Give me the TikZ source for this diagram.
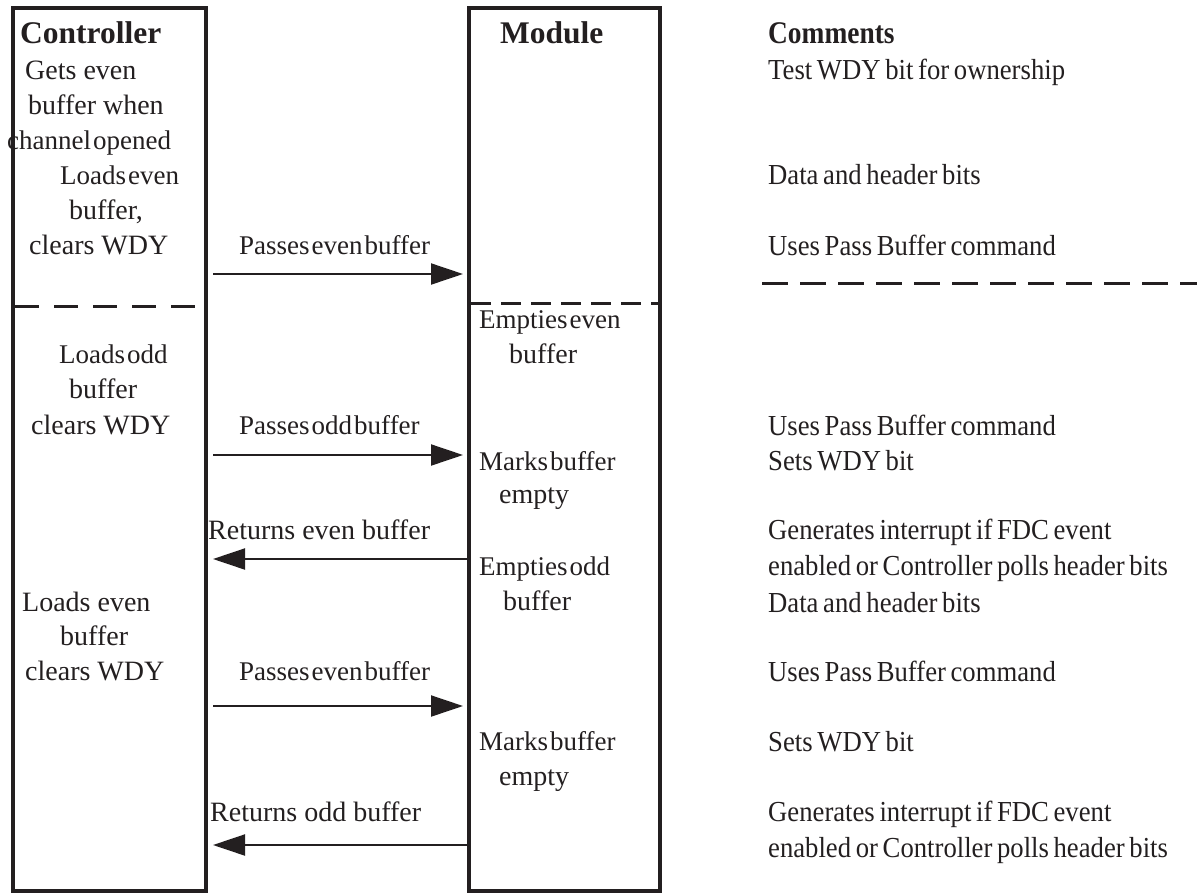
\documentclass[tikz,border=0pt]{standalone}
\usepackage{fontspec}
\setmainfont{Liberation Serif}
\newfontfamily\tightf[WordSpace=0.3]{Liberation Serif}
\newfontfamily\cmtf[FakeStretch=0.92,WordSpace=0.7]{Liberation Serif}
\newfontfamily\cmtbf[FakeStretch=0.87]{Liberation Serif}
\usetikzlibrary{arrows.meta}
\definecolor{ink}{HTML}{231F20}
\tikzset{
  txt/.style={anchor=base west, inner sep=0pt, text=ink, font=\fontsize{28}{35}\selectfont},
  tt/.style={txt, font=\fontsize{27}{35}\selectfont\tightf},
  cmt/.style={txt, font=\fontsize{29}{35}\selectfont\cmtf},
  hdr/.style={txt, font=\fontsize{31.5}{36}\selectfont\bfseries},
  lifebox/.style={draw=ink, line width=4pt},
  sep/.style={draw=ink, line width=3pt, dash pattern=on 24pt off 15pt},
  msg/.style={draw=ink, line width=2pt, -{Triangle[length=32pt,width=21pt]}}
}
\begin{document}
\begin{tikzpicture}[x=1pt,y=-1pt]
\useasboundingbox (0,0) rectangle (1197,895);
% lifeline boxes
\draw[lifebox] (12.5,8) rectangle (206,891);
\draw[lifebox] (469,8) rectangle (660,891);
% separators
\draw[sep] (15,306) -- (203,306);
\draw[sep, dash pattern=on 20pt off 10pt] (471,303) -- (658,303);
\draw[sep, dash pattern=on 26pt off 12pt] (762,283) -- (1197,283);
% headers
\node[hdr] (hc) at (20,43) {Controller};
\node[hdr] (hm) at (500,43) {Module};
\node[txt, font=\fontsize{31.5}{36}\selectfont\cmtbf\bfseries] (hk) at (768,43) {Comments};
% controller texts
\node[txt] (c1) at (25,79) {Gets even};
\node[txt] (c2) at (28,114) {buffer when};
\node[tt] (c3) at (7,149) {channel opened};
\node[tt] (c4) at (60,184) {Loads even};
\node[txt] (c5) at (69,219) {buffer,};
\node[txt] (c6) at (29,254) {clears WDY};
\node[tt] (c7) at (59,363) {Loads odd};
\node[txt] (c8) at (69,398) {buffer};
\node[txt] (c9) at (31,434) {clears WDY};
\node[txt] (c10) at (22,611) {Loads even};
\node[txt] (c11) at (60,645) {buffer};
\node[txt] (c12) at (25,680) {clears WDY};
% module texts
\node[tt] (m1) at (479,328) {Empties even};
\node[txt] (m2) at (509,363) {buffer};
\node[tt] (m3) at (479,470) {Marks buffer};
\node[txt] (m4) at (499,503) {empty};
\node[tt] (m5) at (479,575) {Empties odd};
\node[txt] (m6) at (503,610) {buffer};
\node[tt] (m7) at (479,750) {Marks buffer};
\node[txt] (m8) at (499,785) {empty};
% message labels
\node[tt] (l1) at (239,254) {Passes even buffer};
\node[tt] (l2) at (239,434) {Passes odd buffer};
\node[txt] (l3) at (208,539) {Returns even buffer};
\node[tt] (l4) at (239,680) {Passes even buffer};
\node[txt] (l5) at (210,821) {Returns odd buffer};
% message end points
\coordinate (a1s) at (213,274); \coordinate (a1e) at (463,274);
\coordinate (a2s) at (213,455); \coordinate (a2e) at (463,455);
\coordinate (a3s) at (467,559); \coordinate (a3e) at (213,559);
\coordinate (a4s) at (213,706); \coordinate (a4e) at (463,706);
\coordinate (a5s) at (467,845); \coordinate (a5e) at (213,845);
\draw[msg] (a1s) -- (a1e);
\draw[msg] (a2s) -- (a2e);
\draw[msg] (a3s) -- (a3e);
\draw[msg] (a4s) -- (a4e);
\draw[msg] (a5s) -- (a5e);
% comments
\node[cmt] (k1) at (768,79) {Test WDY bit for ownership};
\node[cmt] (k2) at (768,184) {Data and header bits};
\node[cmt] (k3) at (768,255) {Uses Pass Buffer command};
\node[cmt] (k4) at (768,435) {Uses Pass Buffer command};
\node[cmt] (k5) at (768,470) {Sets WDY bit};
\node[cmt] (k6) at (768,539) {Generates interrupt if FDC event};
\node[cmt] (k7) at (768,575) {enabled or Controller polls header bits};
\node[cmt] (k8) at (768,612) {Data and header bits};
\node[cmt] (k9) at (768,681) {Uses Pass Buffer command};
\node[cmt] (k10) at (768,751) {Sets WDY bit};
\node[cmt] (k11) at (768,821) {Generates interrupt if FDC event};
\node[cmt] (k12) at (768,857) {enabled or Controller polls header bits};
\end{tikzpicture}
\end{document}
